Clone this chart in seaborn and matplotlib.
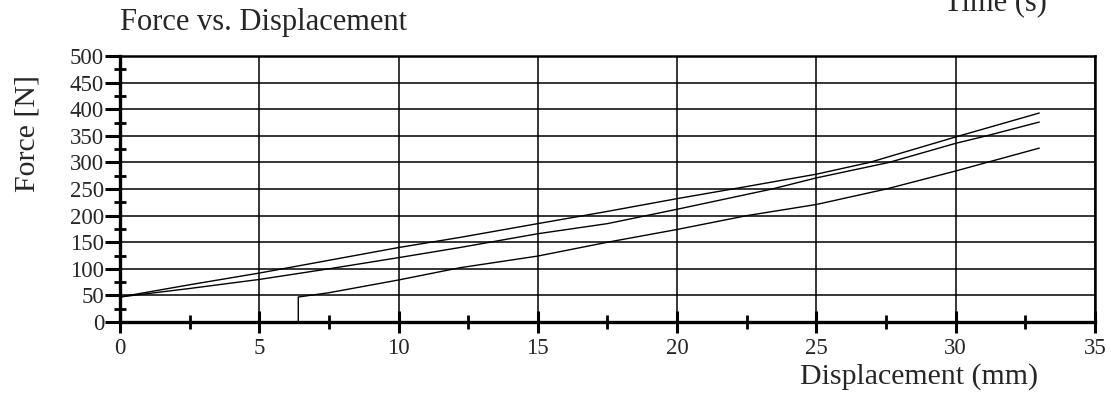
import numpy as np
import pandas as pd
import matplotlib
matplotlib.use('Agg')
import matplotlib.pyplot as plt
from matplotlib.ticker import MultipleLocator
import seaborn as sns

# --- Data ---
disp_a = [0, 2.5, 5, 7.5, 10, 12.2, 15, 17.5, 20, 22.2, 25, 26.9, 30, 33]
force_a = [47, 70, 92, 116, 140, 159, 185, 208, 232, 252, 278, 300, 348, 393]

disp_b = [0, 2.5, 5, 7.5, 10, 12.2, 15, 17.5, 20, 23.4, 25, 27.6, 30, 31.1, 33]
force_b = [47, 63, 80, 100, 121, 140, 166, 185, 212, 250, 271, 300, 336, 350, 376]

disp_c = [6.4, 6.4, 7.5, 10, 12.2, 15, 17.5, 20, 22.5, 25, 27.5, 30, 33]
force_c = [0, 47, 55, 79, 102, 124, 150, 174, 200, 221, 250, 284, 327]

x_ticks = [0, 5, 10, 15, 20, 25, 30, 35]
y_ticks = [0, 50, 100, 150, 200, 250, 300, 350, 400, 450, 500]

# --- Style ---
sns.set_style('white')
plt.rcParams['font.family'] = ['Liberation Serif', 'DejaVu Serif']

fig = plt.figure(figsize=(11.11, 3.98), dpi=100)
ax = fig.add_axes([0.108, 0.191, 0.8776, 0.668])

for xs, ys in [(disp_a, force_a), (disp_b, force_b), (disp_c, force_c)]:
    d = pd.DataFrame({'x': xs, 'y': ys})
    sns.lineplot(data=d, x='x', y='y', ax=ax, color='black', linewidth=1.0,
                 sort=False, estimator=None)

ax.set_xlim(0, 35)
ax.set_ylim(0, 500)
ax.set_xticks(x_ticks)
ax.set_yticks(y_ticks)
ax.xaxis.set_minor_locator(MultipleLocator(2.5))
ax.yaxis.set_minor_locator(MultipleLocator(25))

ax.grid(True, which='major', color='black', linewidth=1.1)
ax.set_axisbelow(True)

for side in ['left', 'bottom']:
    ax.spines[side].set_linewidth(2.4)
for side in ['top', 'right']:
    ax.spines[side].set_linewidth(1.8)
for s in ax.spines.values():
    s.set_color('black')

ax.tick_params(which='both', bottom=True, left=True, top=False, right=False)
ax.tick_params(axis='x', which='major', direction='inout', length=16, width=2.2,
               labelsize=16.5, pad=3.5, color='black')
ax.tick_params(axis='x', which='minor', direction='inout', length=9.5, width=2.0, color='black')
ax.tick_params(axis='y', which='major', direction='out', length=11, width=2.2,
               labelsize=16.5, pad=0.5, color='black')
ax.tick_params(axis='y', which='minor', direction='inout', length=9, width=2.0, color='black')

ax.set_xlabel('')
ax.set_ylabel('')

fig.text(0.108, 1 - 30 / 398, 'Force vs. Displacement', fontsize=22,
         ha='left', va='baseline')
fig.text(0.827, 1 - 384 / 398, 'Displacement (mm)', fontsize=21.5,
         ha='center', va='baseline')
fig.text(0.025, 0.665, 'Force [N]', fontsize=21.5, rotation=90,
         ha='center', va='center')
fig.text(0.896, 1 - 10 / 398, 'Time (s)', fontsize=22, ha='center', va='baseline')

fig.savefig('out.png', dpi=100)
